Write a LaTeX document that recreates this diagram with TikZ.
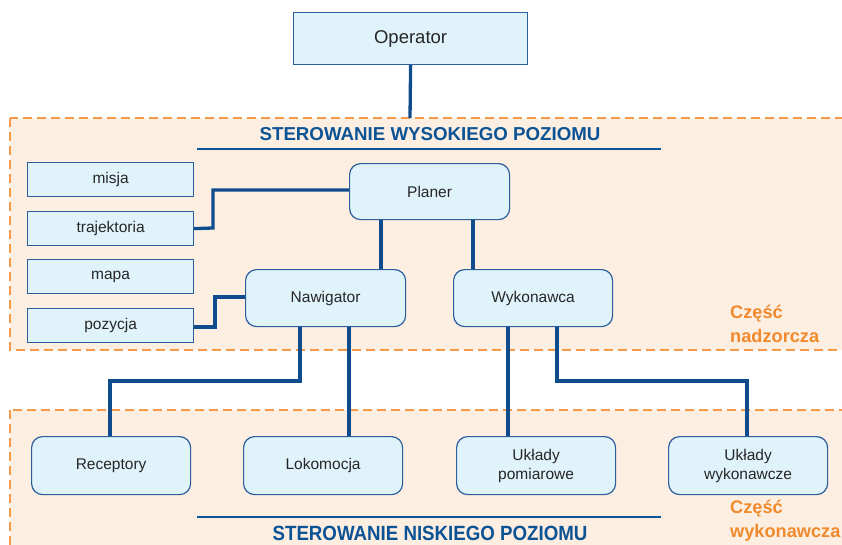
\documentclass[tikz,border=0pt]{standalone}
\usepackage{fontspec}
\setmainfont{Liberation Sans}
\definecolor{boxfill}{HTML}{E0F3FB}
\definecolor{boxdraw}{HTML}{2A5E9C}
\definecolor{linec}{HTML}{0E4C8E}
\definecolor{regfill}{HTML}{FDEEE2}
\definecolor{regdraw}{HTML}{F39A4A}
\definecolor{titlec}{HTML}{0B5394}
\definecolor{orangec}{HTML}{F08A2C}
\begin{document}
\begin{tikzpicture}[x=1pt,y=-1pt,
  sqbox/.style={draw=boxdraw,fill=boxfill,line width=1.2pt,inner sep=0pt,anchor=north west,font=\fontsize{15.5}{18}\selectfont,text=black!85},
  rbox/.style={draw=boxdraw,fill=boxfill,line width=1.2pt,rounded corners=11pt,inner sep=0pt,anchor=north west,align=center,font=\fontsize{15.5}{19}\selectfont,text=black!85},
  conn/.style={draw=linec,line width=3.3pt},
  region/.style={draw=regdraw,fill=regfill,dashed,dash pattern=on 9pt off 5pt,line width=1.2pt},
  title/.style={text=titlec,font=\bfseries\fontsize{18.7}{21}\selectfont},
  part/.style={text=orangec,font=\bfseries\fontsize{18.2}{24}\selectfont,align=left,anchor=north west,inner sep=0pt}]
\useasboundingbox (0,0) rectangle (842,544);
\clip (0,0) rectangle (842,544);
% regions
\draw[region] (10,118) rectangle (860,350);
\draw[region] (10,410) rectangle (860,560);
% operator
\node[sqbox,minimum width=234pt,minimum height=52pt,font=\fontsize{18.5}{22}\selectfont] (op) at (293,12) {Operator};
% titles
\node[title] (t1) at (430,134) {STEROWANIE WYSOKIEGO POZIOMU};
\draw[titlec,line width=1.1pt] (197,149) -- (661,149);
\node[title,yscale=1.1] (t2) at (430,533) {STEROWANIE NISKIEGO POZIOMU};
\draw[titlec,line width=1.1pt] (197,517) -- (661,517);
% left boxes
\node[sqbox,minimum width=166pt,minimum height=34pt] (misja) at (27,162) {misja};
\node[sqbox,minimum width=166pt,minimum height=34pt] (traj) at (27,211) {trajektoria};
\node[sqbox,minimum width=166pt,minimum height=34pt] (mapa) at (27,259) {mapa};
\node[sqbox,minimum width=166pt,minimum height=34pt] (poz) at (27,308) {pozycja};
% main nodes
\node[rbox,minimum width=160pt,minimum height=56pt] (plan) at (349,163) {Planer};
\node[rbox,minimum width=160pt,minimum height=57pt] (naw) at (245,269) {Nawigator};
\node[rbox,minimum width=159pt,minimum height=57pt] (wyk) at (453,269) {Wykonawca};
\node[rbox,minimum width=159pt,minimum height=58pt] (rec) at (31,436) {Receptory};
\node[rbox,minimum width=159pt,minimum height=58pt] (lok) at (243,436) {Lokomocja};
\node[rbox,minimum width=159pt,minimum height=58pt] (pom) at (456,436) {Układy\\pomiarowe};
\node[rbox,minimum width=159pt,minimum height=58pt] (wkw) at (668,436) {Układy\\wykonawcze};
% parts
\node[part] (p1) at (730,305) {Część\\nadzorcza};
\node[part] (p2) at (730,500) {Część\\wykonawcza};
% connectors
\coordinate (regtop) at (410,118);
\draw[conn] (op.south) -- (regtop);
\draw[conn] (traj.east) -- (213,228) -- (213,190) -- (plan.west |- 0,190);
\draw[conn] (poz.east |- 0,327) -- (215,327) -- (215,297) -- (naw.west |- 0,297);
\draw[conn] (plan.south -| 381,0) -- (naw.north -| 381,0);
\draw[conn] (plan.south -| 473,0) -- (wyk.north -| 473,0);
\draw[conn] (naw.south -| 300,0) -- (300,381) -- (110,381) -- (rec.north -| 110,0);
\draw[conn] (naw.south -| 349,0) -- (lok.north -| 349,0);
\draw[conn] (wyk.south -| 508,0) -- (pom.north -| 508,0);
\draw[conn] (wyk.south -| 557,0) -- (557,381) -- (747,381) -- (wkw.north -| 747,0);
\end{tikzpicture}
\end{document}
